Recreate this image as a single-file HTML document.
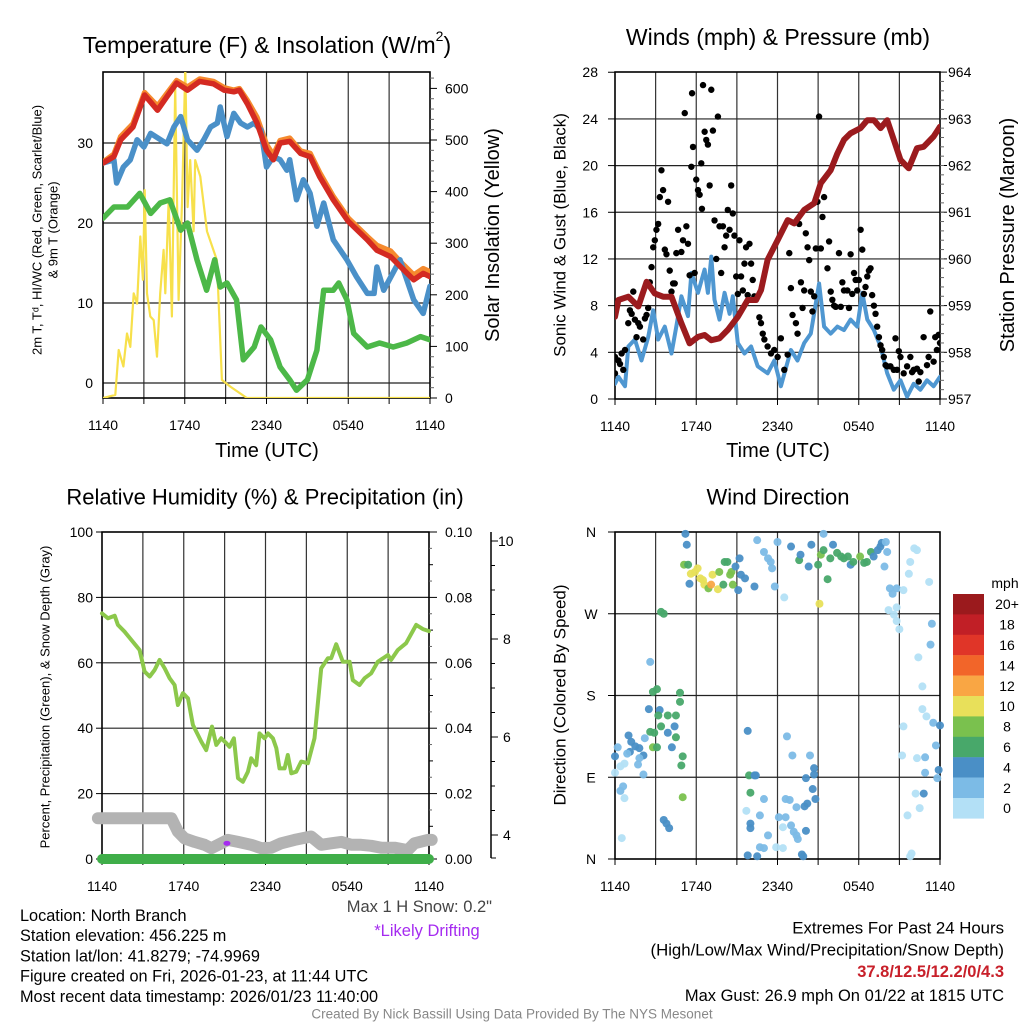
<!DOCTYPE html>
<html><head><meta charset="utf-8"><style>
html,body{margin:0;padding:0;background:#fff;}
svg{display:block;font-family:"Liberation Sans",Arial,sans-serif;}
</style></head><body>
<svg id="fig" width="1024" height="1024" viewBox="0 0 1024 1024" xmlns="http://www.w3.org/2000/svg">
<defs>
<clipPath id="c1"><rect x="103" y="72" width="327" height="326"/></clipPath>
<clipPath id="c2"><rect x="615" y="72" width="325" height="327"/></clipPath>
</defs>
<g id="root"></g>
</svg>
<script>
// ---------- Panel 1 data ----------
const tempT=[0,0.8,1.3,2.2,3.05,4.0,4.7,5.4,6.2,7.1,8.1,8.9,9.6,10.0,10.6,11.3,12.0,12.5,13.0,13.7,14.5,15.2,15.9,16.9,18.0,19.4,20.1,21.1,21.8,22.8,23.5,24];
const tempRed=[27.5,28.3,30.4,32.0,36.0,34.1,35.8,37.5,36.6,37.7,37.4,36.6,36.4,36.6,34.9,32.5,29.1,27.9,30.0,30.2,28.7,28.3,25.8,22.9,20.2,17.9,16.6,15.8,14.6,12.9,13.7,13.3];
const tempOrange=[27.6,28.6,30.8,32.4,36.3,34.6,36.2,37.8,37.0,38.0,37.7,36.9,36.6,36.8,35.3,33.2,29.8,28.5,30.3,30.6,29.0,28.7,26.3,23.3,20.6,18.3,17.2,16.5,15.2,13.5,14.3,13.9];
const wcT=[0,0.8,1.0,1.5,2.0,2.5,3.0,3.5,4.7,5.2,5.7,6.2,6.9,7.4,7.9,8.4,8.6,9.1,9.6,10.1,10.6,11.1,11.6,12.0,12.5,13.0,13.5,13.7,14.2,14.7,15.2,15.7,16.2,16.9,17.9,18.6,19.4,19.9,20.1,20.6,21.8,22.8,23.5,24];
const wcBlue=[27.5,27.9,25.0,27.0,27.9,30.4,29.5,31.2,29.9,32.0,33.3,30.4,29.1,30.4,32.0,32.5,34.5,30.8,33.7,32.5,32.0,32.5,31.6,27.0,28.3,27.9,26.6,27.9,22.9,25.4,23.7,19.6,22.5,17.9,15.4,13.3,11.2,11.2,14.5,11.6,15.4,10.4,8.7,12.1];
const dewT=[0,0.8,1.8,2.7,3.5,4.2,4.9,5.7,6.2,6.9,7.6,8.2,8.6,9.1,9.8,10.3,11.1,11.6,12.3,13.0,13.7,14.2,15.0,15.7,16.2,16.9,17.3,17.9,18.4,19.4,20.3,21.3,22.3,23.3,24];
const dewGreen=[20.6,22.0,22.0,23.7,21.2,22.5,22.9,19.1,20.0,15.4,11.6,15.4,12.0,12.5,10.4,2.9,4.5,7.0,5.4,2.0,0.4,-0.9,0.4,4.1,11.6,11.6,12.5,10.4,6.2,4.5,5.0,4.5,5.0,5.8,5.4];
const solT=[0,0.9,1.15,1.5,1.76,2.0,2.25,2.5,2.74,2.93,3.06,3.23,3.47,3.72,3.96,4.2,4.45,4.57,4.82,5.06,5.3,5.55,5.8,6.04,6.21,6.4,6.65,6.77,7.14,7.63,8.36,8.73,9.34,10.56,24];
const solar=[0,6,93,61,125,99,203,183,313,229,403,203,158,151,80,203,287,203,384,158,603,190,377,640,370,461,323,461,429,323,267,35,22,0,0];
// ---------- Panel 2 data ----------
const presT=[0,0.25,0.98,1.23,1.72,2.33,2.94,3.55,4.17,4.9,5.51,6.13,6.62,7.11,7.72,8.33,9.07,9.8,10.42,10.78,11.27,12.01,12.75,13.24,13.97,14.71,15.2,15.93,16.42,16.91,17.4,18.14,18.63,19.12,19.61,20.1,20.59,21.08,21.69,22.3,22.79,23.53,24];
const pressure=[958.76,959.12,959.19,959.12,958.98,959.51,959.26,959.19,959.19,958.62,958.19,958.33,958.37,958.26,958.30,958.48,958.76,959.12,959.12,959.33,959.98,960.40,960.83,960.76,961.05,961.19,961.62,961.90,962.26,962.55,962.69,962.80,962.97,962.97,962.80,962.97,962.55,962.12,961.94,962.37,962.40,962.62,962.83];
const windT=[0,0.25,0.74,0.98,1.47,1.96,2.45,2.82,3.19,3.68,4.17,4.53,4.9,5.39,5.64,6.13,6.62,6.86,7.11,7.35,7.72,8.09,8.46,8.7,9.07,9.56,10.05,10.54,11.27,11.76,12.25,12.99,13.48,13.97,14.46,15.07,15.44,15.93,16.42,16.91,17.4,17.89,18.26,18.63,19.12,19.61,20.1,20.59,21.08,21.57,22.06,22.55,23.04,23.53,24];
const windBlue=[1.3,1.9,1.1,4.5,5.1,3.3,5.3,7.6,5.1,6.2,3.9,6.2,8.8,7.1,10.8,9.1,11.1,9.1,12.2,8.5,6.8,9.1,7.3,8.8,4.8,3.9,4.5,2.8,2.2,3.3,1.1,4.2,3.3,4.8,5.6,9.9,6.2,5.6,6.2,5.9,6.8,6.2,9.1,6.8,5.9,4.5,2.2,0.8,1.6,0.2,1.3,0.8,1.6,1.1,1.9];
// gust points: [hours since 1140, mph]
const gusts=[[0,2.2],[0,3.6],[.25,3.3],[.37,3.0],[.49,3.9],[.61,2.5],[.74,4.2],[.98,6.5],[1.1,7.6],[1.23,7.3],[1.35,9.2],[1.47,6.8],[1.59,5.3],[1.72,6.5],[1.84,6.2],[2.08,5.1],[2.21,6.9],[2.33,7.2],[2.45,7.8],[2.57,10.0],[2.7,11.3],[2.82,13.0],[2.94,13.6],[3.06,14.5],[3.19,15.0],[3.31,17.3],[3.43,19.6],[3.55,17.9],[3.68,12.8],[3.8,12.4],[3.92,16.9],[4.04,11.0],[4.17,9.2],[4.29,9.9],[4.41,9.9],[4.53,12.5],[4.66,14.5],[4.9,12.6],[5.02,13.6],[5.15,24.5],[5.27,14.8],[5.39,13.3],[5.51,10.6],[5.64,19.9],[5.69,26.2],[5.76,21.6],[5.88,10.8],[6.0,18.8],[6.13,17.9],[6.25,17.5],[6.37,20.2],[6.42,16.3],[6.5,26.9],[6.62,22.9],[6.74,22.2],[6.86,21.8],[6.99,18.3],[7.11,26.5],[7.23,23.0],[7.35,15.3],[7.48,12.0],[7.6,24.2],[7.72,14.8],[7.84,10.8],[7.97,14.8],[8.09,13.0],[8.21,14.0],[8.33,16.2],[8.46,14.5],[8.58,18.3],[8.7,15.9],[8.82,14.0],[8.95,10.5],[9.07,9.0],[9.19,13.6],[9.31,10.5],[9.44,9.3],[9.56,11.6],[9.68,13.0],[9.8,8.9],[9.93,13.3],[10.05,11.6],[10.17,10.2],[10.29,8.8],[10.66,7.0],[10.78,6.5],[10.91,5.6],[11.03,5.1],[11.27,4.5],[11.52,3.9],[11.76,4.2],[12.01,3.6],[12.25,5.2],[12.5,2.5],[12.75,3.8],[12.87,12.5],[12.99,9.5],[13.11,7.2],[13.36,6.5],[13.48,5.6],[13.6,15.0],[13.73,10.0],[13.85,7.8],[13.97,9.3],[14.09,14.2],[14.22,13.0],[14.34,11.9],[14.46,9.2],[14.58,7.5],[14.71,8.8],[14.83,12.9],[14.95,16.9],[15.07,24.2],[15.2,12.9],[15.32,15.6],[15.44,17.3],[15.69,11.2],[15.81,13.5],[15.93,9.2],[16.05,8.5],[16.18,8.0],[16.3,7.9],[16.54,12.5],[16.67,7.9],[16.79,10.0],[16.91,9.3],[17.16,9.3],[17.28,7.8],[17.4,12.4],[17.52,9.0],[17.65,10.8],[17.77,10.2],[17.89,9.3],[18.01,10.2],[18.14,14.5],[18.26,12.8],[18.38,9.0],[18.5,9.6],[18.63,10.5],[18.75,11.0],[18.87,11.2],[18.99,8.9],[19.12,8.0],[19.24,7.3],[19.36,6.2],[19.49,5.3],[19.61,4.6],[19.73,4.2],[19.85,3.6],[19.98,2.9],[20.1,2.8],[20.34,2.8],[20.59,2.5],[20.71,5.2],[20.83,2.5],[20.96,4.1],[21.08,3.6],[21.32,2.2],[21.57,2.8],[21.81,3.6],[21.94,2.3],[22.06,2.5],[22.3,2.6],[22.43,1.5],[22.55,2.3],[22.79,5.3],[23.04,2.9],[23.16,3.6],[23.28,7.5],[23.53,3.2],[23.65,5.3],[23.77,4.2],[23.9,5.5],[24.0,4.8]];
// ---------- Panel 3 data ----------
const rhT=[0,0.44,0.93,1.17,1.66,2.15,2.76,3.13,3.5,3.86,4.23,4.6,4.96,5.33,5.57,5.94,6.31,6.67,7.29,7.65,8.07,8.39,8.75,9.12,9.36,9.68,9.98,10.34,10.71,10.95,11.32,11.56,11.93,12.18,12.54,12.79,13.03,13.4,13.64,13.89,14.25,14.62,15.11,15.6,16.09,16.58,16.82,17.19,17.68,18.17,18.41,18.9,19.27,19.76,20.24,20.98,21.22,21.71,22.32,23.06,23.55,24];
const rh=[75.1,73.6,74.4,71.6,69.5,67.0,63.9,57.3,55.8,57.8,60.9,58.3,55.3,53.2,47.1,50.7,49.1,41.0,35.9,33.3,40.5,34.9,36.9,35.4,34.3,36.9,24.7,23.6,26.7,30.8,28.7,38.4,36.9,38.4,36.9,33.9,27.7,27.7,31.8,26.2,26.7,29.8,29.3,36.9,58.3,61.4,61.4,65.7,60.3,60.3,54.7,53.2,55.3,56.8,60.3,62.4,60.9,63.9,66.0,71.6,70.3,69.7];
const precipT=[0,24];
const precip=[0,0];
const snowT=[-0.3,5.09,5.57,6.06,6.8,7.53,8.02,8.75,9.24,9.98,10.95,11.69,12.42,13.15,14.13,15.35,16.09,16.82,17.56,18.29,19.02,19.76,20.49,21.47,22.44,22.93,23.91,24.2];
const snow=[4.34,4.34,4.07,3.93,3.86,3.80,3.73,3.83,3.90,3.86,3.80,3.73,3.74,3.83,3.90,3.97,3.80,3.83,3.86,3.80,3.80,3.78,3.74,3.74,3.69,3.83,3.90,3.90];
const driftT=[9.17];
const driftV=[3.83];
// ---------- Panel 4 data: [hours, degrees, mph] ----------
const dirPts=[[5.2,358,5],[5.3,346,5],[5.1,324,9],[5.4,324,7],[5.5,303,5],[5.6,314,11],[5.9,316,11],[6.1,320,11],[6.3,309,11],[6.5,307,11],[6.6,302,11],[6.9,298,9],[7.1,302,13],[7.2,313,11],[7.6,297,11],[7.7,316,9],[8.0,302,7],[8.1,327,7],[8.3,327,7],[8.6,316,9],[8.7,302,9],[8.5,313,9],[9.1,296,5],[9.2,331,5],[9.3,313,5],[9.6,309,5],[8.9,322,5],[10.3,300,5],[10.5,351,3],[11.0,338,3],[11.3,331,3],[11.5,327,3],[11.6,320,3],[12.0,349,3],[11.8,300,3],[12.5,288,1],[13.0,344,5],[13.6,329,7],[13.7,335,5],[14.3,322,5],[14.5,346,5],[15.0,324,7],[15.1,281,11],[15.2,335,9],[15.4,358,3],[15.7,308,7],[15.4,340,7],[15.9,331,7],[16.1,346,5],[16.4,337,7],[16.7,333,7],[16.9,331,7],[17.2,333,7],[17.4,324,5],[17.6,327,7],[18.1,333,9],[18.4,326,7],[18.6,327,7],[18.9,338,7],[19.1,333,5],[19.4,340,5],[19.6,344,5],[19.7,348,5],[20.0,349,3],[20.1,338,3],[19.9,322,3],[22.1,342,1],[22.3,340,1],[21.8,327,1],[21.7,314,1],[23.2,305,1],[20.3,298,3],[20.8,298,3],[21.3,296,1],[20.5,292,3],[20.8,277,1],[20.2,274,1],[20.6,269,1],[20.8,262,1],[21.0,253,1],[23.4,259,3],[23.3,236,3],[22.4,222,1],[22.7,190,1],[22.7,165,1],[23.0,157,1],[23.5,150,3],[24.0,147,5],[21.3,146,1],[23.7,125,3],[21.2,114,1],[22.3,111,1],[22.9,112,3],[22.9,95,3],[23.9,98,5],[23.8,89,3],[22.2,72,1],[22.8,72,5],[22.5,56,1],[21.6,48,1],[21.9,6,1],[21.8,3,1],
[3.4,272,7],[3.6,270,7],[2.6,217,3],[2.8,184,7],[3.1,187,7],[4.8,183,7],[4.8,173,7],[2.5,165,5],[3.3,164,5],[3.2,158,7],[3.9,158,7],[4.5,158,7],[3.4,146,7],[3.9,139,5],[4.4,146,5],[4.5,134,7],[2.6,140,7],[2.9,139,7],[2.2,133,3],[1.0,136,5],[1.2,129,5],[1.5,124,5],[1.8,122,5],[2.1,114,5],[1.1,118,5],[2.8,123,9],[3.1,123,7],[4.2,123,5],[5.0,113,7],[4.9,103,7],[0.2,123,3],[0,113,5],[0.9,116,3],[0.7,105,1],[0.4,102,1],[1.8,111,3],[1.7,104,3],[2.1,93,3],[0,95,1],[0.6,80,3],[0.4,75,3],[0.7,67,1],[0.5,23,1],[5.0,68,9],[3.6,43,5],[3.8,39,5],[4.0,34,5],
[9.8,141,5],[9.9,92,7],[10.0,73,7],[10.3,92,5],[10.4,92,5],[9.7,53,1],[10.0,39,5],[10.0,34,5],[10.7,48,3],[11.0,66,3],[11.3,26,3],[10.7,13,3],[11.0,12,3],[9.8,4,5],[10.5,3,5],[11.9,13,1],[12.4,12,1],[12.1,46,3],[12.6,46,3],[12.4,35,1],[13.0,37,3],[13.2,30,3],[13.5,22,3],[13.4,26,3],[12.6,66,3],[12.9,65,3],[12.7,135,3],[13.1,114,3],[13.4,57,3],[14.0,58,5],[14.2,61,5],[14.1,31,5],[14.6,77,5],[14.8,66,5],[14.1,89,5],[14.7,93,5],[14.7,100,5],[14.4,114,3],[13.8,5,5],[13.9,3,5]];
const speedColors=["#b3e0f6","#7cbbe6","#4a8fc6","#48a86a","#7ac14e","#e8e05a","#f9a644","#f26529","#e03528","#c11f26","#9b1a1d"];
const speedLabels=["0","2","4","6","8","10","12","14","16","18","20+"];
const timeLabels=["1140","1740","2340","0540","1140"];

// ---------- helpers ----------
const NS="http://www.w3.org/2000/svg";
const root=document.getElementById('root');
function mk(tag,attrs,parent){const e=document.createElementNS(NS,tag);for(const k in attrs)e.setAttribute(k,attrs[k]);(parent||root).appendChild(e);return e;}
function txt(s,x,y,size,anchor,parent,extra){const e=mk('text',Object.assign({x:x,y:y,'font-size':size,'text-anchor':anchor||'middle','dominant-baseline':'central',fill:'#000'},extra||{}),parent);e.textContent=s;return e;}
function pathOf(ts,vs,fx,fy){let d='';for(let i=0;i<ts.length;i++){d+=(i?'L':'M')+fx(ts[i]).toFixed(1)+' '+fy(vs[i]).toFixed(1);}return d;}

// ---------- scales ----------
const X1=t=>103+t*327/24, Y1=v=>383-v*8, YS1=w=>398-w*0.516;
const X2=t=>615+t*325/24, YW=v=>399-v*11.67, YP=p=>399-(p-957)*46.7;
const X3=t=>102+t*327/24, YRH=v=>859-v*3.27, YPR=v=>859-v*3270, YSN=s=>835-(s-4)*49;
const YD=d=>532+(360-d)/360*327;

function frame(x0,y0,x1,y1,name,vgrid,hgrid,fx){
  const g=mk('g',{});
  
  
  for(let h=3;h<24;h+=3){mk('line',{x1:fx(h),x2:fx(h),y1:y0,y2:y1,stroke:'#333','stroke-width':1.2},g);}
  hgrid.forEach(y=>mk('line',{x1:x0,x2:x1,y1:y,y2:y,stroke:'#222','stroke-width':1.2},g));
  const r=mk('rect',{x:x0,y:y0,width:x1-x0,height:y1-y0,fill:'none',stroke:'#000','stroke-width':1.6});
  
  
  const xa=mk('g',{});
  
  
  for(let h=0;h<=24;h+=3){mk('line',{x1:fx(h),x2:fx(h),y1:y1,y2:y1+6,stroke:'#000','stroke-width':1},xa);}
  timeLabels.forEach((s,i)=>txt(s,fx(i*6),y1+27,14,'middle',xa));
}
function series(d,color,w,name,clip,extra){const p=mk('path',Object.assign({d:d,fill:'none',stroke:color,'stroke-width':w,'stroke-linejoin':'round','stroke-linecap':'round','clip-path':clip?'url(#'+clip+')':''},extra||{}));return p;}

// ================= Panel 1 =================
const tt=mk('text',{x:267,y:45,'font-size':23,'text-anchor':'middle','dominant-baseline':'central',fill:'#000'});


tt.appendChild(document.createTextNode('Temperature (F) & Insolation (W/m'));
const sup=mk('tspan',{'font-size':14,dy:-9},tt);sup.textContent='2';
const cl=mk('tspan',{dy:9},tt);cl.textContent=')';
frame(103,72,430,398,'temp',true,[0,10,20,30].map(Y1),X1);
[0,10,20,30].forEach(v=>{const t=txt(String(v),93,Y1(v),14,'end');});
for(let w=0;w<=600;w+=100){mk('line',{x1:430,x2:437,y1:YS1(w),y2:YS1(w),stroke:'#000'});txt(String(w),445,YS1(w),14,'start');}
for(let w=20;w<=620;w+=20){if(w%100)mk('line',{x1:430,x2:434,y1:YS1(w),y2:YS1(w),stroke:'#666'});}
series(pathOf(solT,solar,X1,YS1),'#f7e04b',2.2,'insolation-line','c1');
series(pathOf(dewT,dewGreen,X1,Y1),'#4cb848',5.5,'dewpoint-line','c1');
series(pathOf(tempT,tempOrange,X1,Y1),'#f58a2e',5.5,'temp-9m-line','c1');
series(pathOf(wcT,wcBlue,X1,Y1),'#4a90c8',5.5,'windchill-line','c1');
series(pathOf(tempT,tempRed,X1,Y1),'#d42a22',5.5,'temp-2m-line','c1');
txt('Time (UTC)',267,451,20,'middle');
let t1=txt('',0,0,13,'middle',null,{transform:'translate(37,230) rotate(-90)'});
t1.textContent='2m T, T\u1d48, HI/WC (Red, Green, Scarlet/Blue)';

txt('& 9m T (Orange)',0,0,13,'middle',null,{transform:'translate(53,230) rotate(-90)'});
txt('Solar Insolation (Yellow)',0,0,20,'middle',null,{transform:'translate(493,235) rotate(-90)'});

// ================= Panel 2 =================
txt('Winds (mph) & Pressure (mb)',778,37,23,'middle');
frame(615,72,940,399,'winds',true,[4,8,12,16,20,24].map(YW),X2);
for(let v=0;v<=28;v+=4){txt(String(v),598,YW(v),14,'end');mk('line',{x1:608,x2:615,y1:YW(v),y2:YW(v),stroke:'#000'});}
for(let p=957;p<=964;p++){txt(String(p),948,YP(p),14,'start');mk('line',{x1:940,x2:947,y1:YP(p),y2:YP(p),stroke:'#000'});}
for(let p=957.2;p<964;p+=0.2){mk('line',{x1:940,x2:944,y1:YP(p),y2:YP(p),stroke:'#666'});}
series(pathOf(windT,windBlue,X2,YW),'#4f97d1',4,'sonic-wind-line','c2');
const gg=mk('g',{'clip-path':'url(#c2)'});


gusts.forEach(g=>{const c=mk('circle',{cx:X2(g[0]),cy:YW(g[1]),r:3.2,fill:'#000'},gg);

});
series(pathOf(presT,pressure,X2,YP),'#9b1b1e',6,'pressure-line','c2');
txt('Time (UTC)',778,451,20,'middle');
txt('Sonic Wind & Gust (Blue, Black)',0,0,17,'middle',null,{transform:'translate(560,235) rotate(-90)'});
txt('Station Pressure (Maroon)',0,0,20,'middle',null,{transform:'translate(1008,235) rotate(-90)'});

// ================= Panel 3 =================
txt('Relative Humidity (%) & Precipitation (in)',265,497,22,'middle');
frame(102,532,429,859,'rh',true,[20,40,60,80].map(YRH),X3);
for(let v=0;v<=100;v+=20){txt(String(v),93,YRH(v),14,'end');mk('line',{x1:96,x2:102,y1:YRH(v),y2:YRH(v),stroke:'#000'});}
for(let i=0;i<=10;i++){const v=i/100;const y=YPR(v);mk('line',{x1:429,x2:i%2?433:437,y1:y,y2:y,stroke:'#000'});if(i%2===0)txt(v.toFixed(2),445,y,14,'start');}
for(let i=1;i<20;i++){if(i%2)mk('line',{x1:429,x2:432,y1:YPR(i/200),y2:YPR(i/200),stroke:'#666'});}
const sa=mk('g',{});


mk('line',{x1:491,x2:491,y1:532,y2:858,stroke:'#000','stroke-width':1.5},sa);
for(let s=4;s<=10;s+=0.5){mk('line',{x1:491,x2:Number.isInteger(s)&&s%2===0?498:495,y1:YSN(s),y2:YSN(s),stroke:'#000'},sa);}
[4,6,8,10].forEach(s=>txt(String(s),s===10?498:503,YSN(s),14,'start',sa));
mk('line',{x1:491,x2:496,y1:858,y2:858,stroke:'#000'},sa);
series(pathOf(snowT,snow,X3,YSN),'#b3b3b3',12,'snow-depth-line',null);
series(pathOf(rhT,rh,X3,YRH),'#8cc84b',4,'rh-line',null);
series(pathOf(precipT,precip,X3,YPR),'#3fae49',10,'precip-line',null);
driftT.forEach((t,i)=>{const e=mk('ellipse',{cx:X3(t),cy:YSN(driftV[i]),rx:3.5,ry:2.5,fill:'#a52bf0'});

});
txt('Percent, Precipitation (Green), & Snow Depth (Gray)',0,0,13,'middle',null,{transform:'translate(45,697) rotate(-90)'});

// ================= Panel 4 =================
txt('Wind Direction',778,497,22,'middle');
frame(615,532,940,859,'wdir',true,[270,180,90].map(YD),X2);
[['N',360],['W',270],['S',180],['E',90],['N',0]].forEach(a=>{txt(a[0],591,YD(a[1]),14,'middle');mk('line',{x1:608,x2:615,y1:YD(a[1]),y2:YD(a[1]),stroke:'#000'});});
const dg=mk('g',{});


dirPts.forEach(p=>{const ci=Math.min(10,Math.floor(p[2]/2));const c=mk('circle',{cx:X2(p[0]),cy:YD(p[1]),r:4,fill:speedColors[ci],'fill-opacity':0.95},dg);

});
txt('Direction (Colored By Speed)',0,0,17,'middle',null,{transform:'translate(560,695) rotate(-90)'});
const lg=mk('g',{});


txt('mph',1005,583,14,'middle',lg);
for(let i=0;i<11;i++){const idx=10-i;const y=594+i*20.4;mk('rect',{x:953,y:y,width:31,height:20.6,fill:speedColors[idx]},lg);txt(speedLabels[idx],1007,y+10.2,14,'middle',lg);}

// ================= Footer text =================
const info=["Location: North Branch","Station elevation: 456.225 m","Station lat/lon: 41.8279; -74.9969","Figure created on Fri, 2026-01-23, at 11:44 UTC","Most recent data timestamp: 2026/01/23 11:40:00"];
const fg=mk('g',{});


info.forEach((s,i)=>txt(s,20,916+i*20.2,16.3,'start',fg));
txt('Max 1 H Snow: 0.2"',492,907,16.5,'end',null,{fill:'#444'});
txt('*Likely Drifting',427,931,16.5,'middle',null,{fill:'#a52bf0'});
txt('Extremes For Past 24 Hours',1004,928,16.8,'end');
txt('(High/Low/Max Wind/Precipitation/Snow Depth)',1004,950,16.8,'end');
txt('37.8/12.5/12.2/0/4.3',1004,972,16.5,'end',null,{fill:'#c8202a','font-weight':'bold'});
txt('Max Gust: 26.9 mph On 01/22 at 1815 UTC',1004,996,16.5,'end');
txt('Created By Nick Bassill Using Data Provided By The NYS Mesonet',512,1014,13.5,'middle',null,{fill:'#888'});
</script>
</body></html>
